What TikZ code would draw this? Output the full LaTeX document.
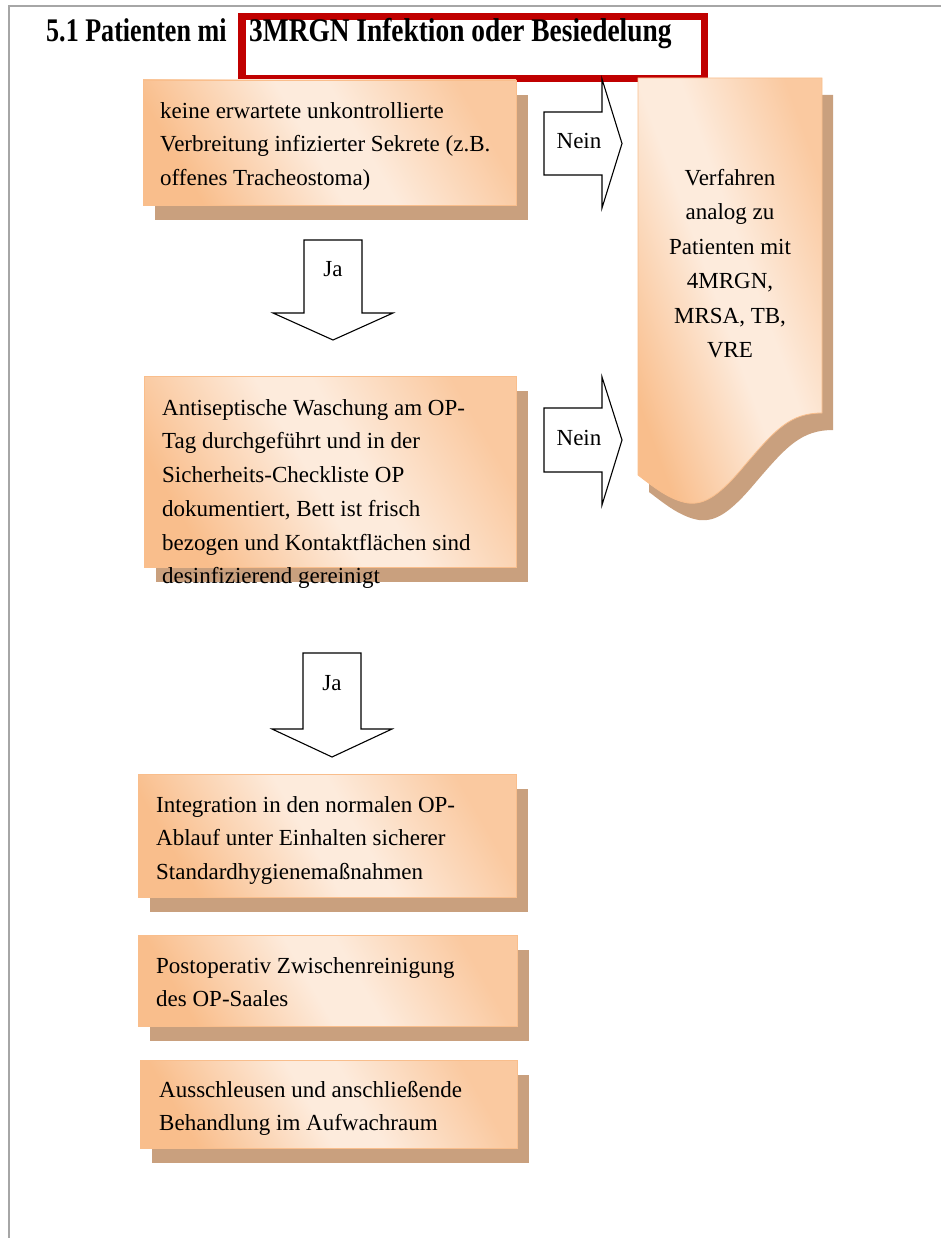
\documentclass[tikz,border=0pt]{standalone}
\usepackage{fontspec}
\setmainfont{Liberation Serif}
\newfontfamily\titlefonta{Liberation Serif}[FakeStretch=0.79]
\newfontfamily\titlefontb{Liberation Serif}[FakeStretch=0.83]
\usetikzlibrary{shadows}
\definecolor{ora}{HTML}{F9BE8C}
\definecolor{orb}{HTML}{FAC9A0}
\definecolor{lite}{HTML}{FDEBDC}
\definecolor{shad}{HTML}{C9A07E}
\definecolor{redframe}{HTML}{C00000}
\definecolor{pageline}{HTML}{A6A6A6}
\pgfdeclarehorizontalshading{boxshade}{100bp}{color(0bp)=(ora); color(25bp)=(ora); color(47bp)=(lite); color(55bp)=(lite); color(75bp)=(orb); color(100bp)=(orb)}
\newcommand{\mystrut}{\rule{0pt}{24pt}}
\tikzset{
  boxshape/.style={draw=ora, line width=0.8pt, shade, shading=boxshade, shading angle=30,
    general shadow={fill=shad, shadow xshift=12pt, shadow yshift=-15pt},
    inner sep=0pt, outer sep=0pt, anchor=north west},
  boxtext/.style={font=\fontsize{23}{33.7}\selectfont, align=left, anchor=north west, inner sep=0pt},
  blockarrow/.style={draw=black, fill=white, line width=1.1pt, line join=miter},
  arrowlabel/.style={font=\fontsize{23}{28}\selectfont, inner sep=0pt, anchor=base},
  titletext/.style={anchor=base west, inner sep=0pt}
}
\begin{document}
\begin{tikzpicture}[x=1pt, y=-1pt]
\useasboundingbox (0,0) rectangle (941,1238);
% page border
\draw[pageline, line width=1.5pt] (9,1238) -- (9,6) -- (941,6);

% title
\node[titletext, font=\titlefonta\bfseries\fontsize{33}{36}\selectfont] (title1) at (46,42) {5.1 Patienten mi};
\node[draw=redframe, line width=7.5pt, fill=white, anchor=north west, minimum width=462.5pt, minimum height=62pt, inner sep=0pt] (redbox) at (238,13) {};
\node[titletext, font=\titlefontb\bfseries\fontsize{33}{36}\selectfont] (title2) at (249,42) {3MRGN Infektion oder Besiedelung};

% boxes
\node[boxshape, minimum width=373pt, minimum height=125pt] (b1) at (143,80) {};
\node[boxshape, minimum width=372pt, minimum height=191pt] (b2) at (144,376) {};
\node[boxshape, minimum width=378pt, minimum height=123pt] (b3) at (138,774) {};
\node[boxshape, minimum width=379pt, minimum height=91pt] (b4) at (138,935) {};
\node[boxshape, minimum width=377pt, minimum height=88pt] (b5) at (140,1060) {};

% right document-shaped box
\path[draw=ora, line width=0.8pt, shade, shading=boxshade, shading angle=20,
  general shadow={fill=shad, shadow xshift=11pt, shadow yshift=-17pt}]
  (638,78) -- (822,78) -- (822,413)
  .. controls (790,413) and (775,430) .. (745,465)
  .. controls (720,495) and (705,505) .. (688,503)
  .. controls (670,500) and (655,488) .. (638,475) -- cycle;
\coordinate (vbox) at (730,78);

% texts
\node[boxtext] (t1) at (160,94) {\mystrut keine erwartete unkontrollierte\\Verbreitung infizierter Sekrete (z.B.\\offenes Tracheostoma)};
\node[boxtext] (t2) at (162,391) {\mystrut Antiseptische Waschung am OP-\\Tag durchgeführt und in der\\Sicherheits-Checkliste OP\\dokumentiert, Bett ist frisch\\bezogen und Kontaktflächen sind\\desinfizierend gereinigt};
\node[boxtext] (t3) at (156,788) {\mystrut Integration in den normalen OP-\\Ablauf unter Einhalten sicherer\\Standardhygienemaßnahmen};
\node[boxtext] (t4) at (156,949) {\mystrut Postoperativ Zwischenreinigung\\des OP-Saales};
\node[boxtext] (t5) at (159,1073) {\mystrut Ausschleusen und anschließende\\Behandlung im Aufwachraum};
\node[font=\fontsize{23}{34.5}\selectfont, align=center, anchor=north, inner sep=0pt] (vt) at (730,161) {\mystrut Verfahren\\analog zu\\Patienten mit\\4MRGN,\\MRSA, TB,\\VRE};

% Ja arrows
\draw[blockarrow] (304,240) -- (362,240) -- (362,313) -- (393,313) -- (333,340) -- (273,313) -- (304,313) -- cycle;
\node[arrowlabel] (ja1) at (333,277) {Ja};
\draw[blockarrow] (303,653) -- (361,653) -- (361,729) -- (392,729) -- (332,757) -- (272,729) -- (303,729) -- cycle;
\node[arrowlabel] (ja2) at (332,690) {Ja};

% Nein arrows
\draw[blockarrow] (544,112) -- (602,112) -- (602,79) -- (622,143.5) -- (602,208) -- (602,175) -- (544,175) -- cycle;
\node[arrowlabel] (nein1) at (579,149) {Nein};
\draw[blockarrow] (544,408) -- (602,408) -- (602,377) -- (622,440) -- (602,505) -- (602,472) -- (544,472) -- cycle;
\node[arrowlabel] (nein2) at (579,445) {Nein};
\end{tikzpicture}
\end{document}
